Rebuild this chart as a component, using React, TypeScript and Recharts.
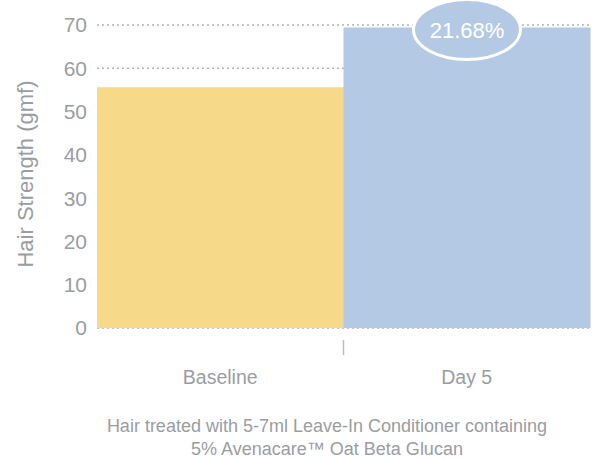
import React from 'react';
import { BarChart, Bar, XAxis, YAxis, CartesianGrid, Cell, LabelList, Customized } from 'recharts';

const categories = ['Baseline', 'Day 5'];
const strengthValues = [55.6, 69.4];
const changeLabels = ['', '21.68%'];
const barColors = ['#f6da8a', '#b4cae4'];
const yTicks = [0, 10, 20, 30, 40, 50, 60, 70];
const yAxisTitle = 'Hair Strength (gmf)';
const captionLines = [
  'Hair treated with 5-7ml Leave-In Conditioner containing',
  '5% Avenacare\u2122 Oat Beta Glucan',
];

const data = categories.map((c, i) => ({ name: c, value: strengthValues[i], change: changeLabels[i] }));

const FONT = '"Liberation Sans", Arial, Helvetica, sans-serif';
const GREY = '#9a9da2';

const XTick = (props: any) => {
  const { x, y, payload, index } = props;
  const half = payload && payload.offset ? payload.offset : 123;
  return (
    <g>
      <text x={x} y={y + 48} textAnchor="middle" fontSize={19.5} fill={GREY} fontFamily={FONT}>
        {payload.value}
      </text>
      {index === 0 ? (
        <line x1={x + half} x2={x + half} y1={y + 4} y2={y + 19} stroke="#b9bcc0" strokeWidth={1.5} />
      ) : null}
    </g>
  );
};

const EllipseLabel = (props: any) => {
  const { x, y, width, value } = props;
  if (!value) return null;
  const cx = x + width / 2;
  const cy = y + 2;
  return (
    <g>
      <ellipse cx={cx} cy={cy} rx={53.5} ry={30} fill="#b4cae4" stroke="#ffffff" strokeWidth={3} />
      <text x={cx} y={cy + 8} textAnchor="middle" fontSize={22} fill="#ffffff" fontFamily={FONT}>
        {value}
      </text>
    </g>
  );
};

const Caption = () => (
  <g>
    {captionLines.map((line, i) => (
      <text key={i} x={327} y={432 + i * 23} textAnchor="middle" fontSize={18} fill={GREY} fontFamily={FONT}>
        {line}
      </text>
    ))}
  </g>
);

export default function App() {
  return (
    <div style={{ position: 'absolute', left: 0, top: 0, width: 597, height: 459, background: '#fff' }}>
      <BarChart
        width={597}
        height={459}
        data={data}
        margin={{ top: 25, right: 7, left: 0, bottom: 101 }}
        barCategoryGap={0}
      >
        <CartesianGrid vertical={false} stroke="#b0b2b5" strokeDasharray="2 3" strokeWidth={1.5} />
        <XAxis dataKey="name" height={30} axisLine={false} tickLine={false} tick={<XTick />} interval={0} />
        <YAxis
          width={97}
          domain={[0, 70]}
          ticks={yTicks}
          axisLine={false}
          tickLine={false}
          tickSize={6}
          tickMargin={4}
          tick={{ fontSize: 21, fill: GREY, fontFamily: FONT }}
          label={{
            content: () => (
              <text
                x={25}
                y={174}
                transform="rotate(-90 25 174)"
                textAnchor="middle"
                dominantBaseline="central"
                fontSize={22}
                fill={GREY}
                fontFamily={FONT}
              >
                {yAxisTitle}
              </text>
            ),
          }}
        />
        <Bar dataKey="value" isAnimationActive={false}>
          {data.map((d, i) => (
            <Cell key={i} fill={barColors[i]} />
          ))}
          <LabelList dataKey="change" content={<EllipseLabel />} />
        </Bar>
        <Customized component={Caption} />
      </BarChart>
    </div>
  );
}
